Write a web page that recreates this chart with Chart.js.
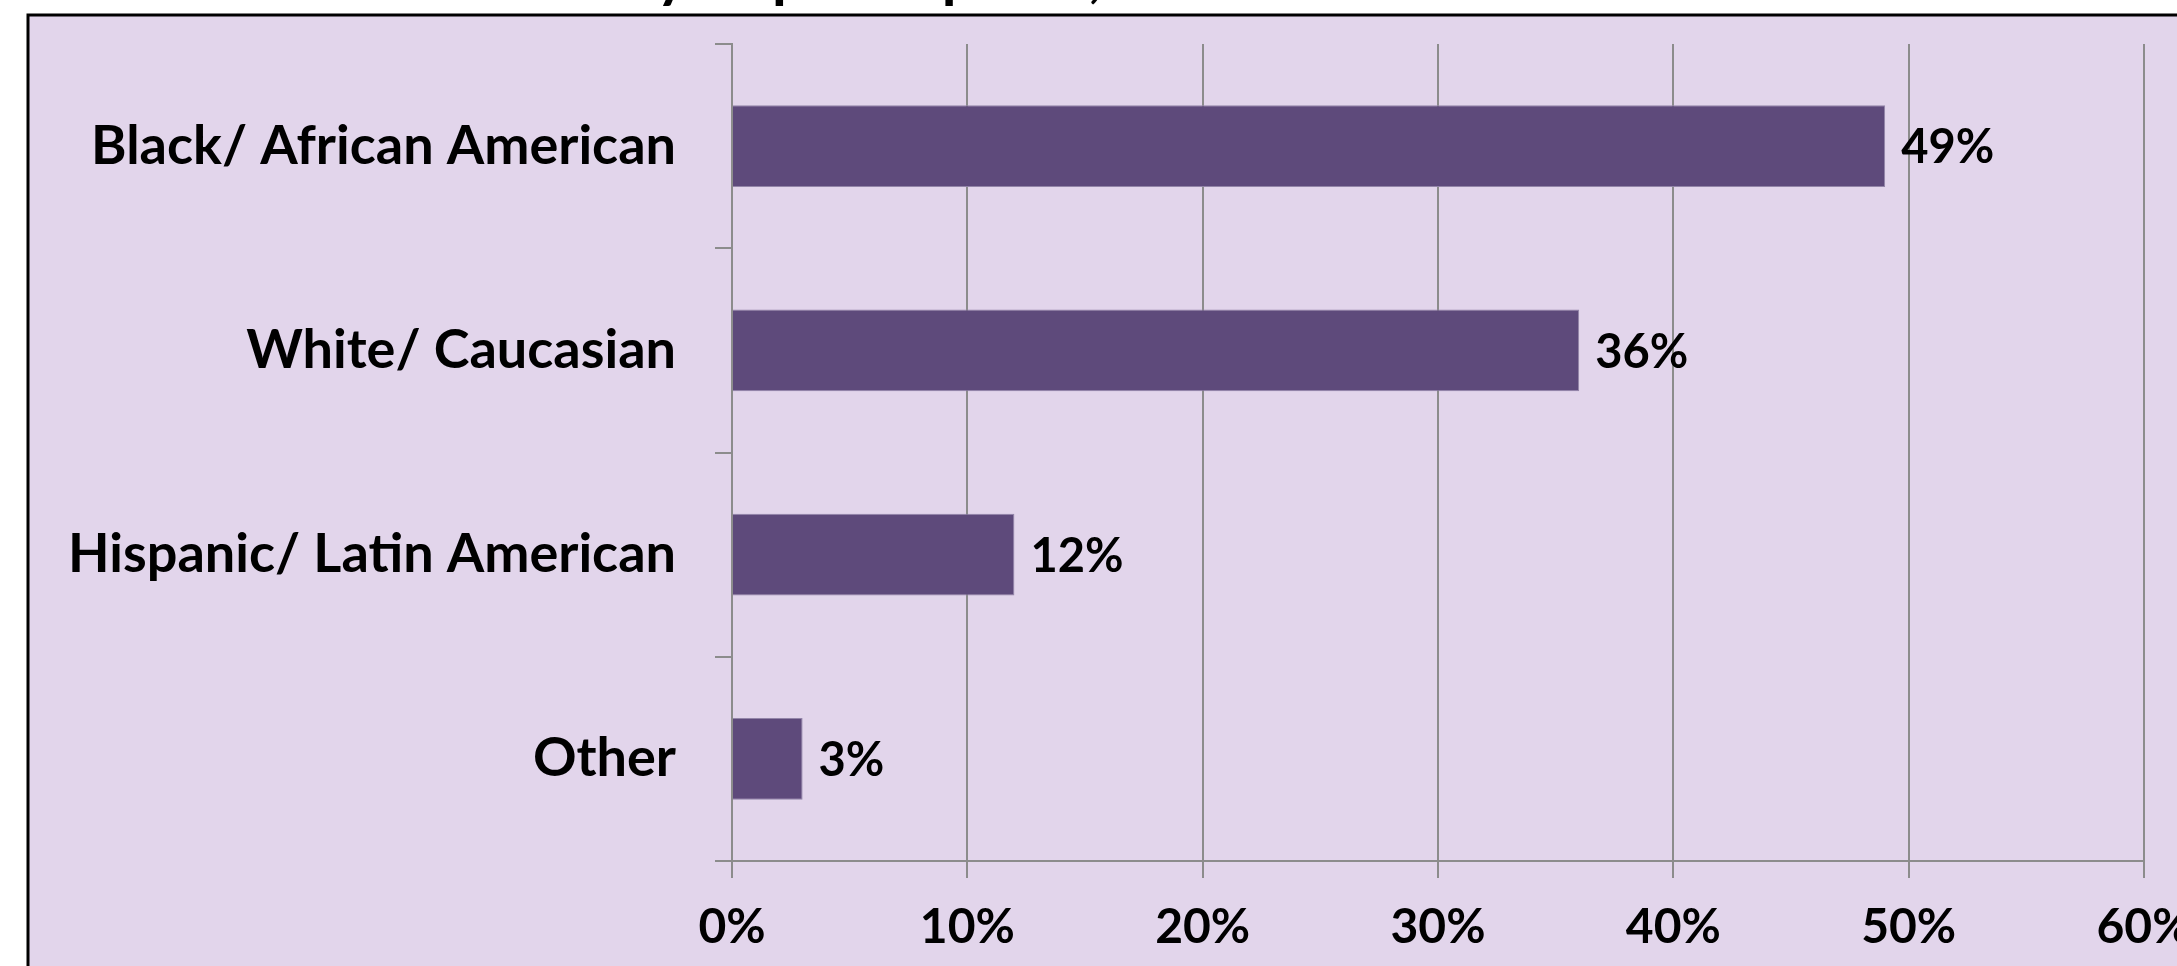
<!DOCTYPE html>
<html>
<head>
<meta charset="utf-8">
<title>Participants by ethnicity</title>
<script src="https://cdn.jsdelivr.net/npm/chart.js@4.4.1/dist/chart.umd.min.js"></script>
<style>
    html, body { margin: 0; padding: 0; background: #ffffff; overflow: hidden; }
    .chart-wrap { position: absolute; left: 0; top: 0; width: 2300px; height: 966px; }
</style>
</head>
<body>
<div class="chart-wrap">
    <canvas id="ethnicityChart" width="2300" height="966"></canvas>
</div>
<script>
// ===============================
// DONNEES
// ===============================

const titleText = 'Race and Ethnicity of participants, overall';
const ethnicityLabels = ['Black/ African American', 'White/ Caucasian', 'Hispanic/ Latin American', 'Other'];
const ethnicityData = [49, 36, 12, 3];
const tickLabels = ['0%', '10%', '20%', '30%', '40%', '50%', '60%'];

// ===============================
// STYLES
// ===============================

const FONT = 'Lato, "Open Sans", sans-serif';
const BAR_COLOR = '#5e4a7b';
const PANEL_COLOR = '#e2d5eb';
const GRID_COLOR = '#8c8c8c';

// panel with black frame behind the chart + title above it
const panelPlugin = {
    id: 'panel',
    beforeDraw(chart) {
        const ctx = chart.ctx;
        ctx.save();
        ctx.fillStyle = '#ffffff';
        ctx.fillRect(0, 0, chart.width, chart.height);
        ctx.fillStyle = PANEL_COLOR;
        ctx.fillRect(28, 15, chart.width, chart.height);
        ctx.strokeStyle = '#000000';
        ctx.lineWidth = 3;
        ctx.beginPath();
        ctx.moveTo(28, chart.height + 10);
        ctx.lineTo(28, 15);
        ctx.lineTo(chart.width + 10, 15);
        ctx.stroke();

        ctx.fillStyle = '#000000';
        ctx.font = 'bold 60px ' + FONT;
        ctx.textAlign = 'left';
        ctx.textBaseline = 'alphabetic';
        const before = ctx.measureText('Race and Ethnicit').width;
        ctx.fillText(titleText, 656 - before, -4);
        ctx.restore();
    }
};

// value labels at the end of each bar
const valueLabels = {
    id: 'valueLabels',
    afterDatasetsDraw(chart) {
        const ctx = chart.ctx;
        const meta = chart.getDatasetMeta(0);
        ctx.save();
        ctx.fillStyle = '#000000';
        ctx.font = 'bold 47px ' + FONT;
        ctx.textAlign = 'left';
        ctx.textBaseline = 'middle';
        meta.data.forEach((bar, i) => {
            ctx.fillText(ethnicityData[i] + '%', bar.x + 16, bar.y + 2);
        });
        ctx.restore();
    }
};

// ===============================
// GRAPHIQUE
// ===============================

new Chart(document.getElementById('ethnicityChart'), {
    type: 'bar',
    data: {
        labels: ethnicityLabels,
        datasets: [{
            data: ethnicityData,
            backgroundColor: BAR_COLOR,
            borderColor: '#9385a8',
            borderWidth: 1,
            barPercentage: 0.4,
            categoryPercentage: 1.0
        }]
    },
    options: {
        indexAxis: 'y',
        responsive: false,
        animation: false,
        layout: { padding: { top: 44, right: 156, bottom: 0, left: 0 } },
        plugins: {
            legend: { display: false },
            tooltip: { enabled: false }
        },
        scales: {
            x: {
                min: 0,
                max: 60,
                ticks: {
                    stepSize: 10,
                    color: '#000000',
                    font: { family: FONT, size: 48, weight: 'bold' },
                    padding: 21,
                    maxRotation: 0,
                    callback: (v, i) => tickLabels[i]
                },
                grid: { color: GRID_COLOR, lineWidth: 2, tickLength: 17 },
                border: { color: GRID_COLOR, width: 2 },
                afterFit: scale => { scale.height = 966 - 861; }
            },
            y: {
                ticks: {
                    color: '#000000',
                    font: { family: FONT, size: 54, weight: 'bold' },
                    padding: 39
                },
                grid: { drawOnChartArea: false, color: GRID_COLOR, lineWidth: 2, tickLength: 17 },
                border: { color: GRID_COLOR, width: 2 },
                afterFit: scale => {
                    scale.width = 732;
                    scale.paddingTop = 0;
                    scale.paddingBottom = 0;
                }
            }
        }
    },
    plugins: [panelPlugin, valueLabels]
});
</script>
</body>
</html>
